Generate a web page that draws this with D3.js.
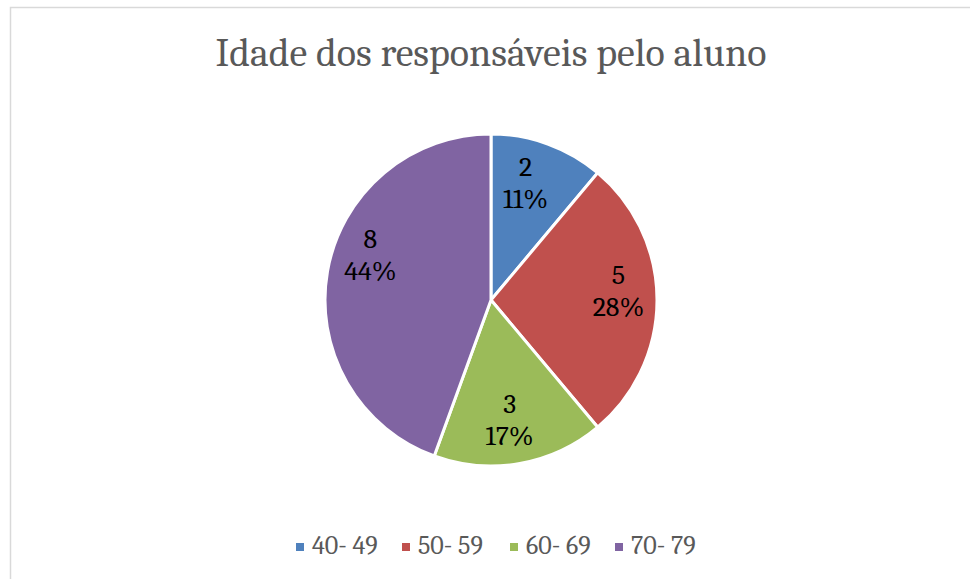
<!DOCTYPE html>
<html>
<head>
<meta charset="utf-8">
<script src="https://cdn.jsdelivr.net/npm/d3@7"></script>
<style>
  html, body { margin: 0; padding: 0; background: #fff; }
  svg { display: block; }
</style>
</head>
<body>
<script>
// chart data
var categories = ['40- 49', '50- 59', '60- 69', '70- 79']
var counts = [2, 5, 3, 8]
var percents = ['11%', '28%', '17%', '44%']
var colors = ['#4f81bd', '#c0504d', '#9bbb59', '#8064a2']
var title = 'Idade dos responsáveis pelo aluno'

// layout
var width = 970, height = 579
var cx = 491, cy = 300, radius = 166
var font = 'Cambria, "Liberation Serif", "DejaVu Serif", serif'
// best-fit label nudges (px) from the 0.75r centroid, like excel places them
var labelNudge = [[-8, 0], [3, -9], [-3, -3], [2, -23]]
var legendX = [296, 402, 510, 615]

var svg = d3.select('body').append('svg')
  .attr('width', width)
  .attr('height', height)

// chart area border
svg.append('rect')
  .attr('x', 10.5).attr('y', 7.5)
  .attr('width', 980).attr('height', 600)
  .attr('fill', '#fff')
  .attr('stroke', '#d9d9d9')
  .attr('stroke-width', 1.5)

svg.append('text')
  .attr('x', cx).attr('y', 66)
  .attr('text-anchor', 'middle')
  .style('font-family', font)
  .style('font-size', '40px')
  .style('fill', '#595959')
  .text(title)

var data = categories.map(function(c, i) {
  return { cat: c, n: counts[i], pct: percents[i], color: colors[i], i: i }
})

var pie = d3.pie().sort(null).value(function(d) { return d.n })
var arc = d3.arc().innerRadius(0).outerRadius(radius)
var labelArc = d3.arc().innerRadius(radius * 0.75).outerRadius(radius * 0.75)

var g = svg.append('g').attr('transform', 'translate(' + cx + ',' + cy + ')')

var slices = g.selectAll('g.slice')
  .data(pie(data))
  .enter()
    .append('g')
    .attr('class', 'slice')

slices.append('path')
  .attr('d', arc)
  .attr('fill', function(d) { return d.data.color })
  .attr('stroke', '#fff')
  .attr('stroke-width', 3)

var labels = slices.append('text')
  .attr('text-anchor', 'middle')
  .style('font-family', font)
  .style('font-size', '28px')
  .style('fill', '#000')
  .attr('transform', function(d) {
    var c = labelArc.centroid(d)
    var nd = labelNudge[d.data.i]
    return 'translate(' + (c[0] + nd[0]) + ',' + (c[1] + nd[1]) + ')'
  })

labels.append('tspan').attr('x', 0).attr('y', -7).text(function(d) { return d.data.n })
labels.append('tspan').attr('x', 0).attr('y', 25).text(function(d) { return d.data.pct })

// legend
var legend = svg.append('g').selectAll('g.item')
  .data(data)
  .enter()
    .append('g')
    .attr('class', 'item')
    .attr('transform', function(d, i) { return 'translate(' + legendX[i] + ',554)' })

legend.append('rect')
  .attr('x', 0).attr('y', -11)
  .attr('width', 8).attr('height', 8)
  .attr('fill', function(d) { return d.color })

legend.append('text')
  .attr('x', 16).attr('y', 0)
  .style('font-family', font)
  .style('font-size', '26px')
  .style('fill', '#595959')
  .text(function(d) { return d.cat })
</script>
</body>
</html>
